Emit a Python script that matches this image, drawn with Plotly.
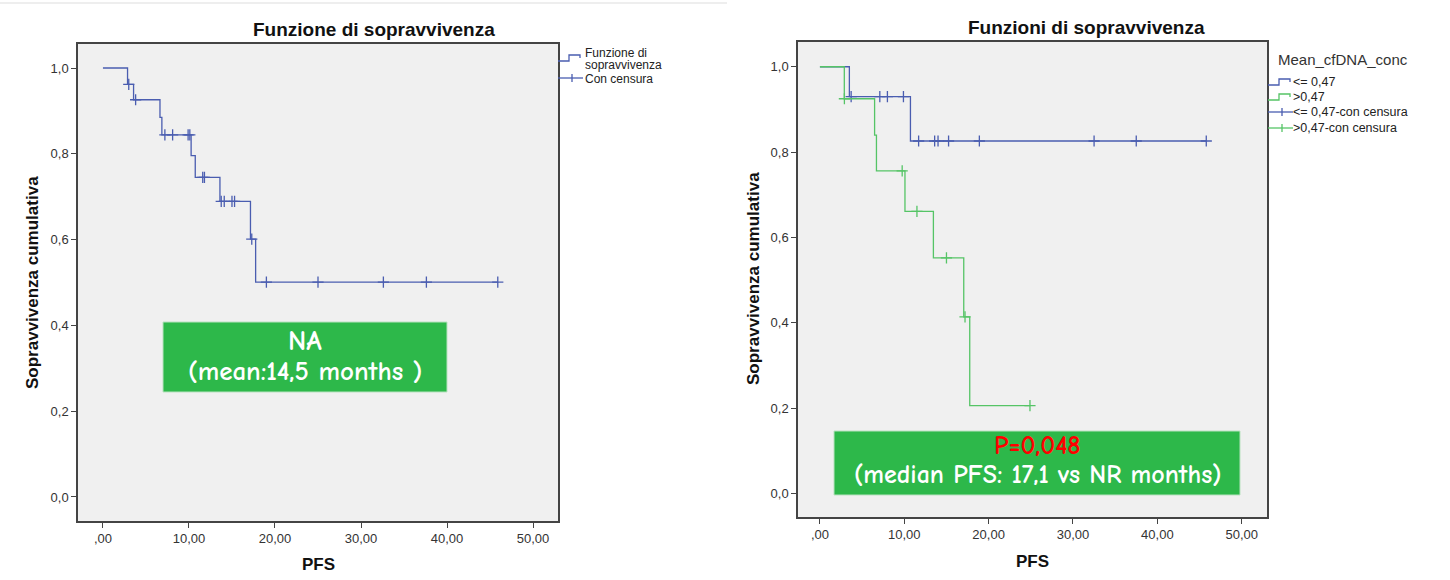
import plotly.graph_objects as go

# ---------------- data ----------------
# Left panel: overall Kaplan-Meier curve
all_event_t = [2.86, 3.56, 6.63, 6.85, 10.25, 10.73, 13.6, 17.15, 17.75]
all_event_s = [0.962, 0.926, 0.885, 0.844, 0.796, 0.745, 0.689, 0.601, 0.501]
all_cens_t = [3.0, 3.8, 7.2, 8.1, 9.9, 10.1, 11.6, 11.8, 13.75, 14.1, 15.0,
              15.3, 17.3, 19.0, 25.0, 32.6, 37.6, 45.9]

# Right panel: Mean_cfDNA_conc <= 0,47
low_event_t = [3.49, 10.73]
low_event_s = [0.930, 0.826]
low_cens_t = [3.7, 7.1, 8.0, 9.9, 11.7, 13.6, 14.0, 15.25, 18.9, 32.5, 37.5, 45.8]

# Right panel: Mean_cfDNA_conc > 0,47
high_event_t = [2.89, 6.48, 6.7, 10.08, 13.45, 17.05, 17.76]
high_event_s = [0.925, 0.84, 0.756, 0.661, 0.552, 0.414, 0.206]
high_cens_t = [2.9, 9.75, 11.5, 15.0, 17.2, 24.9]

x_ticks = [0, 10, 20, 30, 40, 50]
x_ticktext = [",00", "10,00", "20,00", "30,00", "40,00", "50,00"]
y_ticks = [0, 0.2, 0.4, 0.6, 0.8, 1.0]
y_ticktext = ["0,0", "0,2", "0,4", "0,6", "0,8", "1,0"]

left_legend_labels = [["Funzione di", "sopravvivenza"], ["Con censura"]]
right_legend_title = "Mean_cfDNA_conc"
right_legend_labels = ["<= 0,47", ">0,47", "<= 0,47-con censura", ">0,47-con censura"]

BLUE = "#4a5db0"
GREEN = "#55c466"
BOX = "#2db84a"


def step_xy(ev_t, ev_s, cens_t):
    xs = [0.0] + list(ev_t)
    ys = [1.0] + list(ev_s)
    last = max(cens_t + ev_t)
    if last > xs[-1]:
        xs.append(last)
        ys.append(ys[-1])
    return xs, ys


def surv_at(t, ev_t, ev_s):
    s = 1.0
    for et, es in zip(ev_t, ev_s):
        if et <= t:
            s = es
    return s


fig = go.Figure()


def add_curve(ev_t, ev_s, cens_t, color, name, cname, xa, ya):
    x, y = step_xy(ev_t, ev_s, cens_t)
    fig.add_trace(go.Scatter(x=x, y=y, mode="lines", line=dict(color=color, width=1.3, shape="hv"),
                             name=name, xaxis=xa, yaxis=ya, showlegend=False))
    fig.add_trace(go.Scatter(x=cens_t, y=[surv_at(t, ev_t, ev_s) for t in cens_t], mode="markers",
                             marker=dict(symbol="cross-thin", size=8, line=dict(color=color, width=1.3)),
                             name=cname, xaxis=xa, yaxis=ya, showlegend=False))


add_curve(all_event_t, all_event_s, all_cens_t, BLUE, "Funzione di sopravvivenza", "Con censura", "x", "y")
add_curve(low_event_t, low_event_s, low_cens_t, BLUE, right_legend_labels[0], right_legend_labels[2], "x2", "y2")
add_curve(high_event_t, high_event_s, high_cens_t, GREEN, right_legend_labels[1], right_legend_labels[3], "x2", "y2")

W, H = 1450, 580


def px(v):
    return v / W


def py(v):
    return 1 - v / H


axis_common = dict(showline=True, mirror=True, linecolor="#444", linewidth=1.5,
                   ticks="outside", ticklen=5, tickcolor="#444", tickwidth=1.2,
                   showgrid=False, zeroline=False,
                   tickfont=dict(family="Liberation Sans, Arial", size=13, color="#333"))

fig.update_layout(
    width=W, height=H,
    margin=dict(l=0, r=0, t=0, b=0),
    paper_bgcolor="white",
    plot_bgcolor="#f0f0f0",
    font=dict(family="Liberation Sans, Arial", color="#222"),
    showlegend=False,
    xaxis=dict(domain=[px(78), px(558)], range=[-2.9, 52.9], tickvals=x_ticks, ticktext=x_ticktext,
               anchor="y", **axis_common),
    yaxis=dict(domain=[py(521), py(44)], range=[-0.056, 1.056], tickvals=y_ticks, ticktext=y_ticktext,
               anchor="x", **axis_common),
    xaxis2=dict(domain=[px(798), px(1267)], range=[-2.6, 53.0], tickvals=x_ticks, ticktext=x_ticktext,
                anchor="y2", **axis_common),
    yaxis2=dict(domain=[py(517), py(42)], range=[-0.055, 1.058], tickvals=y_ticks, ticktext=y_ticktext,
                anchor="x2", **axis_common),
)


def pline(pts, color, width=1.3):
    path = "M " + " L ".join(f"{px(a)},{py(b)}" for a, b in pts)
    return dict(type="path", xref="paper", yref="paper", path=path,
                line=dict(color=color, width=width))


def step_icon(x0, yc, color):
    # small step-shaped legend glyph
    return pline([(x0, yc + 3), (x0 + 11, yc + 3), (x0 + 11, yc - 3), (x0 + 22, yc - 3), (x0 + 22, yc)], color)


def cross_icon(x0, yc, color):
    return [pline([(x0, yc), (x0 + 25, yc)], color),
            pline([(x0 + 14, yc - 4), (x0 + 14, yc + 4)], color)]


shapes = [
    dict(type="line", xref="paper", yref="paper", x0=0, x1=px(727), y0=py(3), y1=py(3),
         line=dict(color="#dddddd", width=1)),
    dict(type="rect", xref="paper", yref="paper", x0=px(163), x1=px(447), y0=py(392), y1=py(322),
         fillcolor=BOX, line=dict(color="#b9e2c0", width=1), layer="above"),
    dict(type="rect", xref="paper", yref="paper", x0=px(834), x1=px(1240), y0=py(495), y1=py(431),
         fillcolor=BOX, line=dict(color="#b9e2c0", width=1), layer="above"),
    # left legend glyphs
    step_icon(558, 58, BLUE),
    *cross_icon(558, 78, BLUE),
    # right legend glyphs
    step_icon(1268, 82, BLUE),
    step_icon(1268, 97, GREEN),
    *cross_icon(1268, 112, BLUE),
    *cross_icon(1268, 128, GREEN),
]
fig.update_layout(shapes=shapes)

BOXFONT = "Comic Sans MS, Comic Neue, Liberation Sans Narrow, DejaVu Sans Condensed, sans-serif"
ann = [
    dict(text="<b>Funzione di sopravvivenza</b>", x=px(374), y=py(30), font=dict(size=19, color="#111")),
    dict(text="<b>Funzioni di sopravvivenza</b>", x=px(1086), y=py(28), font=dict(size=19, color="#111")),
    dict(text="<b>PFS</b>", x=px(318), y=py(564), font=dict(size=17, color="#111")),
    dict(text="<b>PFS</b>", x=px(1032), y=py(561), font=dict(size=17, color="#111")),
    dict(text="<b>Sopravvivenza cumulativa</b>", x=px(33), y=py(283), textangle=-90,
         font=dict(size=17, color="#111")),
    dict(text="<b>Sopravvivenza cumulativa</b>", x=px(753), y=py(279), textangle=-90,
         font=dict(size=17, color="#111")),
    dict(text="<b>NA</b>", x=px(305), y=py(341), font=dict(family=BOXFONT, size=28, color="white")),
    dict(text="<b>(mean:14,5 months )</b>", x=px(305), y=py(372), font=dict(family=BOXFONT, size=27, color="white")),
    dict(text="<b>P=0,048</b>", x=px(1037), y=py(446), font=dict(family=BOXFONT, size=26, color="red")),
    dict(text="<b>(median PFS: 17,1 vs NR months)</b>", x=px(1037), y=py(475),
         font=dict(family=BOXFONT, size=26, color="white")),
    # legend texts
    dict(text=left_legend_labels[0][0], x=px(583), y=py(53), xanchor="left",
         font=dict(size=12, color="#222")),
    dict(text=left_legend_labels[0][1], x=px(583), y=py(65), xanchor="left",
         font=dict(size=12, color="#222")),
    dict(text=left_legend_labels[1][0], x=px(583), y=py(79), xanchor="left",
         font=dict(size=12, color="#222")),
    dict(text=right_legend_title, x=px(1276), y=py(60), xanchor="left",
         font=dict(size=15, color="#333")),
    dict(text=right_legend_labels[0], x=px(1291), y=py(82), xanchor="left", font=dict(size=12.5, color="#222")),
    dict(text=right_legend_labels[1], x=px(1291), y=py(97), xanchor="left", font=dict(size=12.5, color="#222")),
    dict(text=right_legend_labels[2], x=px(1291), y=py(112), xanchor="left", font=dict(size=12.5, color="#222")),
    dict(text=right_legend_labels[3], x=px(1291), y=py(128), xanchor="left", font=dict(size=12.5, color="#222")),
]
for a in ann:
    a.setdefault("xanchor", "center")
    a.update(xref="paper", yref="paper", showarrow=False, yanchor="middle", align="left")
fig.update_layout(annotations=ann)

fig.write_html("out.html")
